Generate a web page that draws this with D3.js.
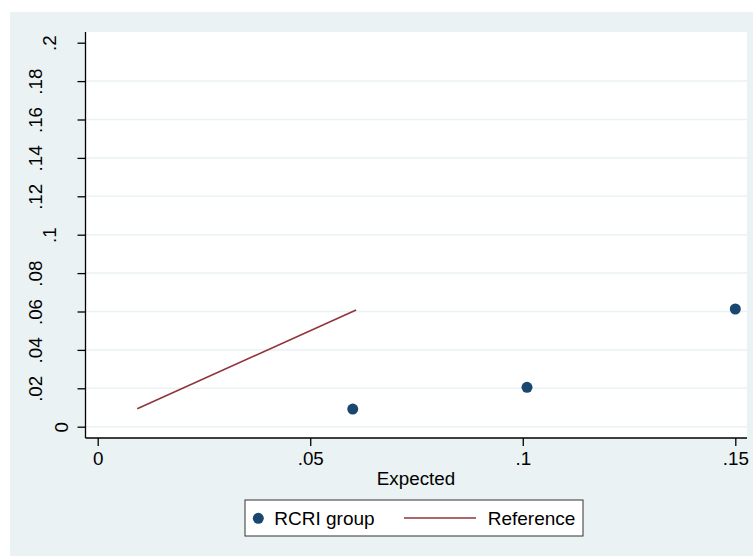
<!doctype html>
<html>
<head>
<meta charset="utf-8"/>
<title>Calibration</title>
<script src="https://d3js.org/d3.v7.min.js"></script>
<style>
body { margin: 0; background: #ffffff; }
text { font-family: "Liberation Sans", Arial, sans-serif; fill: #000; }
</style>
</head>
<body>
<script type="text/javascript">
// data
var expected = [0.060, 0.101, 0.150];
var observed = [0.0092, 0.0205, 0.0613];
var refX = [0.0093, 0.0608];
var refY = [0.0093, 0.0608];
var xTicks = [0, 0.05, 0.1, 0.15];
var xTickLabels = ["0", ".05", ".1", ".15"];
var yTicks = [0, 0.02, 0.04, 0.06, 0.08, 0.1, 0.12, 0.14, 0.16, 0.18, 0.2];
var yTickLabels = ["0", ".02", ".04", ".06", ".08", ".1", ".12", ".14", ".16", ".18", ".2"];
var legendLabels = ["RCRI group", "Reference"];

var W = 753, H = 556;
var bg = "#eaf2f3", navy = "#1a476f", maroon = "#90353b";
var fs = "18.8px";

var svg = d3.select("body").append("svg")
    .attr("width", W).attr("height", H);

svg.append("rect").attr("x", 10).attr("y", 12)
    .attr("width", W - 10).attr("height", H - 12).attr("fill", bg);

var plotL = 85.5, plotT = 32, plotR = 747, plotB = 438;
svg.append("rect").attr("x", plotL).attr("y", plotT)
    .attr("width", plotR - plotL).attr("height", plotB - plotT).attr("fill", "#fff");

var x = d3.scaleLinear().domain([0, 0.15]).range([97.7, 735.3]);
var y = d3.scaleLinear().domain([0, 0.2]).range([426.7, 42.7]);

// gridlines
svg.selectAll("line.grid")
    .data(yTicks.filter(function(d){ return d < 0.19; }))
    .enter().append("line")
    .attr("class", "grid")
    .attr("x1", plotL).attr("x2", plotR)
    .attr("y1", function(d){ return y(d); })
    .attr("y2", function(d){ return y(d); })
    .attr("stroke", bg).attr("stroke-width", 1.5);

// axes
var xAxis = d3.axisBottom(x).tickValues(xTicks)
    .tickFormat(function(d, i){ return xTickLabels[i]; })
    .tickSize(8).tickPadding(6).tickSizeOuter(0);
var gx = svg.append("g").attr("transform", "translate(0," + plotB + ")").call(xAxis);
gx.select(".domain").remove();
gx.append("line").attr("x1", plotL).attr("x2", plotR).attr("y1", 0).attr("y2", 0)
    .attr("stroke", "#000").attr("stroke-width", 1.3);
gx.selectAll(".tick line").attr("stroke", "#000").attr("stroke-width", 1.3);
gx.selectAll(".tick text").style("font-size", fs)
    .style("font-family", "'Liberation Sans', Arial, sans-serif").attr("fill", "#000");

var yAxis = d3.axisLeft(y).tickValues(yTicks)
    .tickFormat(function(d, i){ return yTickLabels[i]; })
    .tickSize(8).tickSizeOuter(0);
var gy = svg.append("g").attr("transform", "translate(" + plotL + ",0)").call(yAxis);
gy.select(".domain").remove();
gy.append("line").attr("x1", 0).attr("x2", 0).attr("y1", plotT).attr("y2", plotB)
    .attr("stroke", "#000").attr("stroke-width", 1.3);
gy.selectAll(".tick line").attr("stroke", "#000").attr("stroke-width", 1.3);
// the vertical labels sit further from the axis the longer they are
gy.selectAll(".tick text")
    .attr("x", null).attr("dy", null)
    .attr("transform", function(d, i){
        var s = yTickLabels[i];
        var dots = s.split(".").length - 1;
        var digits = s.length - dots;
        var base = 82.3 - 14.3 * digits - 12 * dots - plotL;
        return "translate(" + base + ",0) rotate(-90)";
    })
    .attr("text-anchor", "middle")
    .style("font-size", fs)
    .style("font-family", "'Liberation Sans', Arial, sans-serif").attr("fill", "#000");

svg.append("text").attr("x", 416).attr("y", 485)
    .attr("text-anchor", "middle").style("font-size", fs).text("Expected");

// reference line
svg.append("path")
    .datum(refX.map(function(d, i){ return [d, refY[i]]; }))
    .attr("d", d3.line().x(function(d){ return x(d[0]); }).y(function(d){ return y(d[1]); }))
    .attr("stroke", maroon).attr("stroke-width", 1.6).attr("fill", "none");

// points
svg.selectAll("circle.pt")
    .data(expected)
    .enter().append("circle")
    .attr("class", "pt")
    .attr("cx", function(d){ return x(d); })
    .attr("cy", function(d, i){ return y(observed[i]); })
    .attr("r", 5.5)
    .attr("fill", navy);

// legend
var lg = svg.append("g");
lg.append("rect").attr("x", 245).attr("y", 500).attr("width", 338).attr("height", 36)
    .attr("fill", "#fff").attr("stroke", "#333").attr("stroke-width", 1);
lg.append("circle").attr("cx", 258.3).attr("cy", 518.3).attr("r", 5.5).attr("fill", navy);
lg.append("text").attr("x", 274.3).attr("y", 525).style("font-size", "19px").text(legendLabels[0]);
lg.append("line").attr("x1", 404).attr("x2", 476).attr("y1", 518).attr("y2", 518)
    .attr("stroke", maroon).attr("stroke-width", 1.6);
lg.append("text").attr("x", 487.7).attr("y", 525).style("font-size", "19px").text(legendLabels[1]);
</script>
</body>
</html>
